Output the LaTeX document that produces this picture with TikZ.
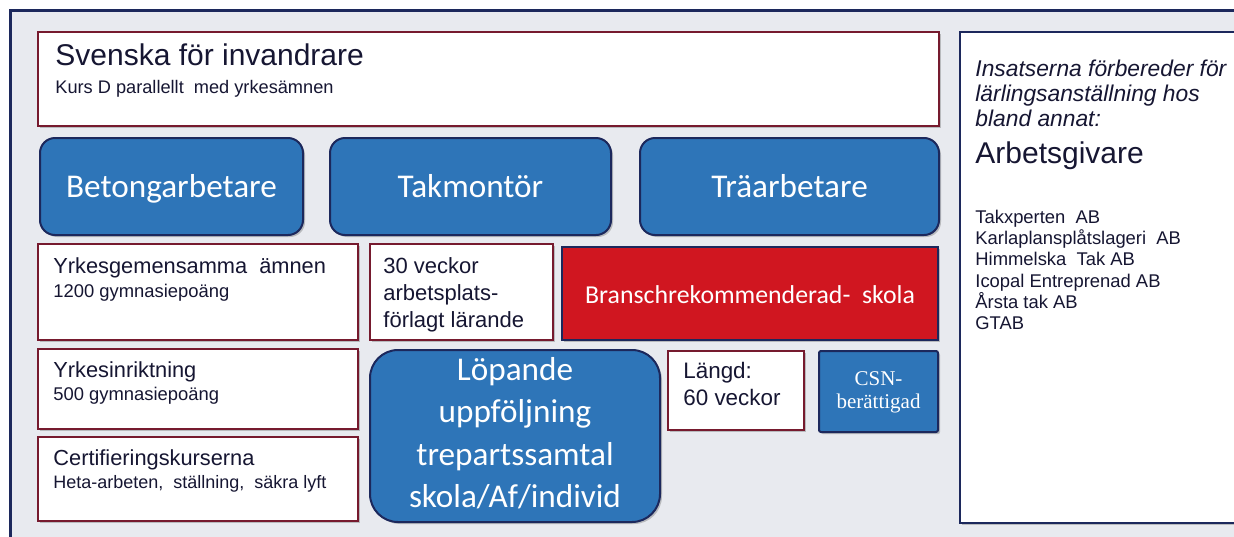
\documentclass[tikz,border=0pt]{standalone}
\usepackage{fontspec}
\setmainfont{Liberation Sans}
\newfontfamily\calfont{Carlito}
\newfontfamily\serfont{Liberation Serif}
\usetikzlibrary{fit,shadows}
\definecolor{bgc}{RGB}{232,234,239}
\definecolor{navy}{RGB}{28,40,92}
\definecolor{boxred}{RGB}{118,26,46}
\definecolor{bluef}{RGB}{46,117,184}
\definecolor{redf}{RGB}{208,22,32}
\definecolor{txt}{RGB}{22,22,50}
\newcommand{\fs}[1]{\fontsize{#1}{#1}\selectfont}
\begin{document}
\begin{tikzpicture}[x=0.5pt,y=-0.5pt,
  shad/.style={drop shadow={shadow xshift=1pt,shadow yshift=-1pt,opacity=0.3,fill=black!70}},
  wbox/.style={draw=boxred,line width=1pt,fill=white,inner sep=0pt,shad},
  bbox/.style={draw=navy,line width=1pt,fill=bluef,inner sep=0pt,rounded corners=7.5pt,shad},
  rbox/.style={draw=navy,line width=1.2pt,fill=redf,inner sep=0pt,shad},
  nbox/.style={draw=navy,line width=1pt,fill=white,inner sep=0pt,shad},
  lt/.style={anchor=base west,inner sep=0pt,text=txt},
  wt/.style={anchor=base,inner sep=0pt,text=white,font=\calfont\fs{16.6}},
]
\useasboundingbox (0,0) rectangle (1234,536);
\fill[white] (0,0) rectangle (1234,536);
\path[fill=bgc,draw=navy,line width=1.5pt] (10,10) rectangle (1260,560);

% top box
\node[wbox,fit={(38,32)(939,126)}] (sfi) {};
\node[lt,font=\fs{15}] (sfiT) at (55,65) {Svenska för invandrare};
\node[lt,font=\fs{9.1}] (sfiS) at (55,93) {Kurs D parallellt\ \ med yrkesämnen};

% right box
\node[nbox,fit={(960,32)(1250,523)}] (right) {};
\node[lt,font=\itshape\fs{11.4}] (r1) at (975,76) {Insatserna förbereder för};
\node[lt,font=\itshape\fs{11.4}] (r2) at (975,101.5) {lärlingsanställning hos};
\node[lt,font=\itshape\fs{11.4}] (r3) at (975,126.5) {bland annat:};
\node[lt,font=\fs{15}] (r4) at (975,163) {Arbetsgivare};
\node[lt,font=\fs{9.2}] (c1) at (975,223) {Takxperten\ \ AB};
\node[lt,font=\fs{9.2}] (c2) at (975,244) {Karlaplansplåtslageri\ \ AB};
\node[lt,font=\fs{9.2}] (c3) at (975,265.5) {Himmelska\ \ Tak AB};
\node[lt,font=\fs{9.2}] (c4) at (975,287) {Icopal Entreprenad AB};
\node[lt,font=\fs{9.2}] (c5) at (975,308) {Årsta tak AB};
\node[lt,font=\fs{9.2}] (c6) at (975,329) {GTAB};

% blue professions
\node[bbox,fit={(40,138)(303,235)}] (beton) {};
\node[wt] (betonT) at (171.5,197) {Betongarbetare};
\node[bbox,fit={(330,138)(611,235)}] (tak) {};
\node[wt] (takT) at (470.5,197) {Takmontör};
\node[bbox,fit={(640,138)(939,235)}] (tra) {};
\node[wt] (traT) at (789.5,197) {Träarbetare};

% left column
\node[wbox,fit={(38,244)(358,340)}] (yg) {};
\node[lt,font=\fs{10.9}] (yg1) at (53,273) {Yrkesgemensamma\ \ ämnen};
\node[lt,font=\fs{9.2}] (yg2) at (53,297) {1200 gymnasiepoäng};
\node[wbox,fit={(38,349)(358,429)}] (yi) {};
\node[lt,font=\fs{10.9}] (yi1) at (53,377) {Yrkesinriktning};
\node[lt,font=\fs{9.2}] (yi2) at (53,400) {500 gymnasiepoäng};
\node[wbox,fit={(38,437)(358,521)}] (ce) {};
\node[lt,font=\fs{10.9}] (ce1) at (53,465) {Certifieringskurserna};
\node[lt,font=\fs{9}] (ce2) at (53,488) {Heta-arbeten,\ \ ställning,\ \ säkra lyft};

% 30 veckor
\node[wbox,fit={(370,244)(553,340)}] (apl) {};
\node[lt,font=\fs{11}] (apl1) at (383,273) {30 veckor};
\node[lt,font=\fs{11}] (apl2) at (383,300) {arbetsplats-};
\node[lt,font=\fs{11}] (apl3) at (383,327) {förlagt lärande};

% red
\node[rbox,fit={(562,247)(938,340)}] (bransch) {};
\node[wt,font=\calfont\fs{12.9}] (branschT) at (750,303) {Branschrekommenderad-\ \ skola};

% Löpande
\node[bbox,rounded corners=14pt,fit={(370,350)(660,522)}] (lop) {};
\node[wt] (lop1) at (515,380) {Löpande};
\node[wt] (lop2) at (515,422) {uppföljning};
\node[wt] (lop3) at (515,465) {trepartssamtal};
\node[wt] (lop4) at (515,507) {skola/Af/individ};

% Längd
\node[wbox,fit={(668,351)(804,430)}] (langd) {};
\node[lt,font=\fs{11.2}] (langd1) at (683,378) {Längd:};
\node[lt,font=\fs{11.2}] (langd2) at (683,405) {60 veckor};

% CSN
\node[bbox,rounded corners=1pt,fit={(819,351)(938,432)}] (csn) {};
\node[wt,font=\serfont\fs{10.5}] (csn1) at (878.5,385) {CSN-};
\node[wt,font=\serfont\fs{10.5}] (csn2) at (878.5,408) {berättigad};
\end{tikzpicture}
\end{document}
